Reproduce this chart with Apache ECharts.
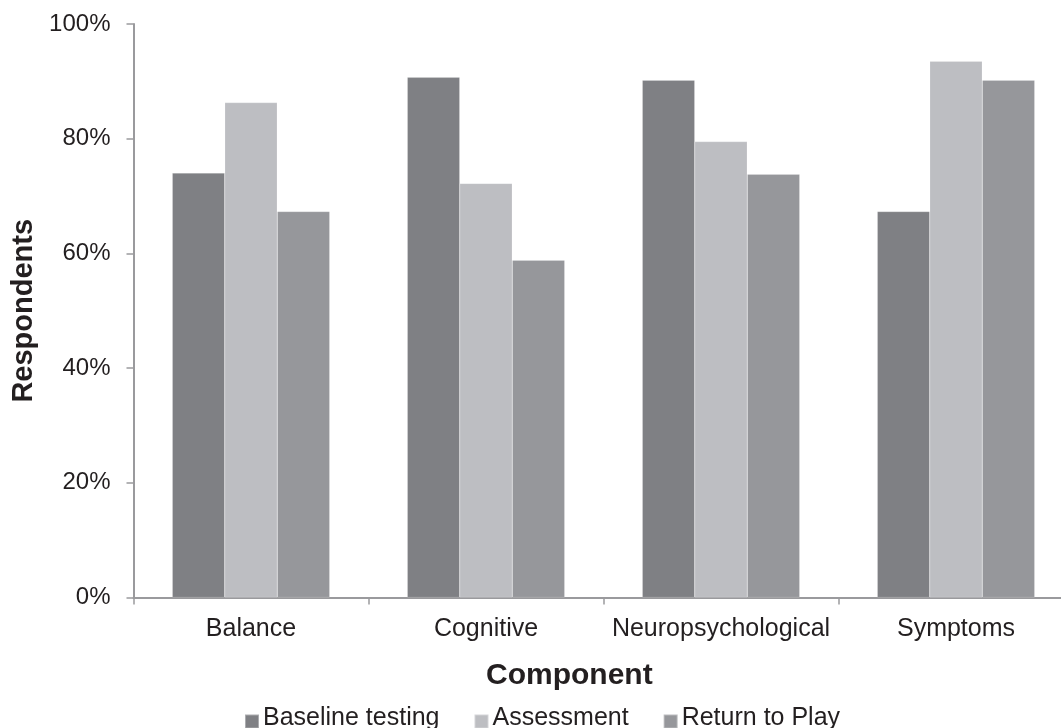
<!DOCTYPE html>
<html>
<head>
<meta charset="utf-8">
<style>
  html, body { margin: 0; padding: 0; background: #ffffff; overflow: hidden; }
  /* canvas is a little wider than the window so the plot runs past the right edge */
  #chart { width: 1076px; height: 728px; }
</style>
<script src="https://cdn.jsdelivr.net/npm/echarts@6/dist/echarts.min.js"></script>
</head>
<body>
<div id="chart"></div>
<script>
// Components of concussion management, share of respondents using each
const categories = ['Balance', 'Cognitive', 'Neuropsychological', 'Symptoms'];
const baselineTesting = [74.0, 90.7, 90.2, 67.3];
const assessment = [86.3, 72.2, 79.5, 93.5];
const returnToPlay = [67.3, 58.8, 73.8, 90.2];
const yTicks = [0, 20, 40, 60, 80, 100];

const FONT = '"Liberation Sans", Arial, sans-serif';
const TEXT = '#231f20';
const AXIS = '#9a9a9d';

const chart = echarts.init(document.getElementById('chart'));

function bar(name, data, color) {
  return {
    name: name,
    type: 'bar',
    data: data,
    barGap: '0%',
    barCategoryGap: '33%',
    itemStyle: { color: color, borderColor: 'rgba(255,255,255,0.35)', borderWidth: 0.5 },
    emphasis: { disabled: true }
  };
}

chart.setOption({
  animation: false,
  textStyle: { fontFamily: FONT, color: TEXT },
  grid: { left: 133.5, width: 940, top: 24, height: 573.5, containLabel: false },
  legend: {
    left: 244,
    top: 706,
    padding: 0,
    itemWidth: 14,
    itemHeight: 20,
    itemGap: 34,
    // square marker sitting on the text baseline
    icon: 'path://M0,0 M0,6 L14,6 L14,20 L0,20 Z',
    textStyle: { fontSize: 25, color: TEXT, fontFamily: FONT, padding: [0, 0, 0, -1] },
    data: ['Baseline testing', 'Assessment', 'Return to Play']
  },
  xAxis: {
    type: 'category',
    data: categories,
    axisLine: { lineStyle: { color: AXIS, width: 2 } },
    axisTick: { show: true, length: 7, lineStyle: { color: AXIS, width: 1.5 } },
    axisLabel: { interval: 0, fontSize: 25, color: TEXT, margin: 19, fontFamily: FONT }
  },
  yAxis: {
    type: 'value',
    min: yTicks[0],
    max: yTicks[yTicks.length - 1],
    interval: yTicks[1] - yTicks[0],
    name: 'Respondents',
    nameLocation: 'middle',
    nameRotate: 90,
    nameGap: 82,
    nameTextStyle: { fontSize: 29, fontWeight: 'bold', color: TEXT, fontFamily: FONT },
    axisLine: { show: true, lineStyle: { color: AXIS, width: 2 } },
    axisTick: { show: true, length: 7, lineStyle: { color: AXIS, width: 1.5 } },
    splitLine: { show: false },
    axisLabel: { fontSize: 24, color: TEXT, margin: 23, fontFamily: FONT, formatter: '{value}%' }
  },
  graphic: [{
    type: 'text',
    left: 486,
    top: 661,
    style: { text: 'Component', font: 'bold 30px ' + FONT, fill: TEXT }
  }],
  series: [
    bar('Baseline testing', baselineTesting, '#7f8084'),
    bar('Assessment', assessment, '#bdbec2'),
    bar('Return to Play', returnToPlay, '#96979b')
  ]
});
</script>
</body>
</html>
